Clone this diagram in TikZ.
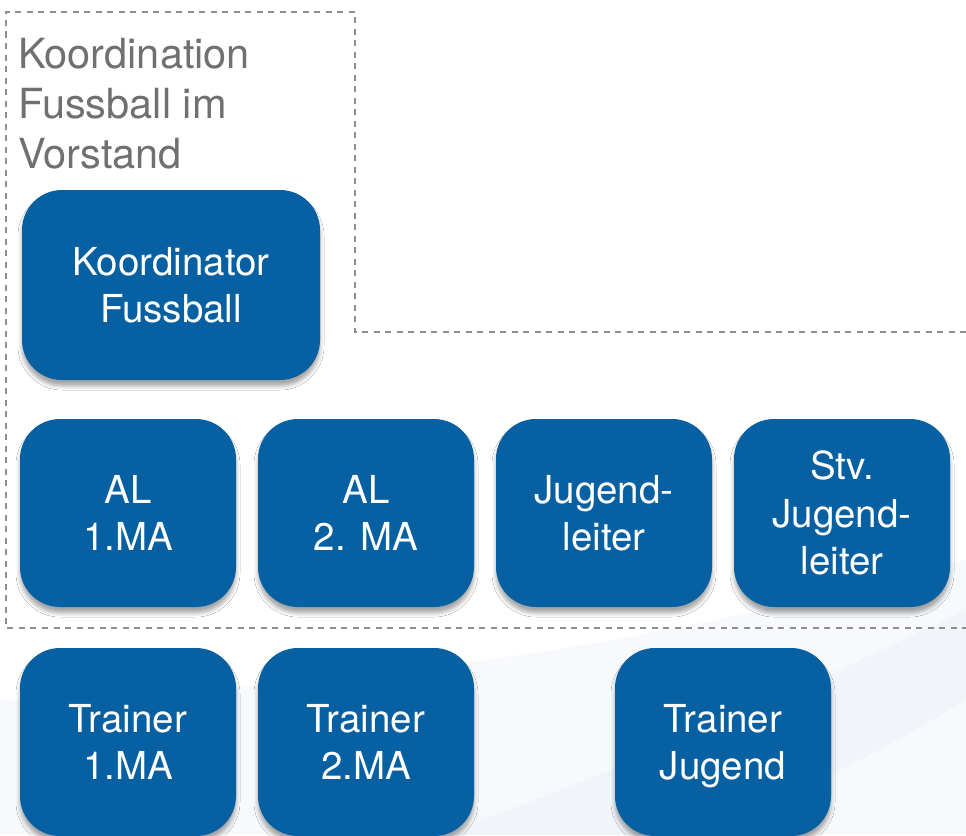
\documentclass[tikz,border=0pt]{standalone}
\usepackage{fontspec}
\setmainfont{TeX Gyre Heros}
\usetikzlibrary{shadows.blur}
\definecolor{boxblue}{HTML}{0660A1}
\definecolor{titlegray}{HTML}{707070}
\definecolor{dotgray}{HTML}{8E8E8E}
\definecolor{swooshA}{HTML}{F1F5FA}
\definecolor{swooshB}{HTML}{F7F9FC}
\newcommand{\lastline}[1]{\smash{#1}}
\tikzset{
  orgbox/.style={draw=none, fill=boxblue, rounded corners=40pt, text=white,
    align=center, inner sep=0pt, font=\fontsize{38.5}{47.5}\selectfont,
    blur shadow={shadow xshift=0pt, shadow yshift=-6pt, shadow blur radius=4pt, shadow opacity=35}},
  smallbox/.style={orgbox, minimum width=216pt, minimum height=188pt},
  groupline/.style={draw=dotgray, line width=1.9pt, dash pattern=on 6pt off 5.5pt},
  titletext/.style={text=titlegray, align=left, inner sep=0pt, anchor=north west,
    font=\fontsize{41.5}{50}\selectfont}
}
\begin{document}
\begin{tikzpicture}[x=1pt, y=-1pt]
\useasboundingbox (0,0) rectangle (966,835);
\fill[white] (0,0) rectangle (966,835);
% faint background swoosh
\fill[swooshB] (0,700) .. controls (300,690) and (600,660) .. (966,560) -- (966,835) -- (0,835) -- cycle;
\fill[swooshA] (440,835) .. controls (650,760) and (820,680) .. (966,610) -- (966,700) .. controls (850,770) and (760,810) .. (700,835) -- cycle;
% group outline
\coordinate (g1) at (966,332);
\coordinate (g2) at (355,332);
\coordinate (g3) at (355,12);
\coordinate (g4) at (6,12);
\coordinate (g5) at (6,628);
\coordinate (g6) at (966,628);
\draw[groupline] (g1) -- (g2) -- (g3) -- (g4) -- (g5) -- (g6);
\node[titletext] (title) at (18,38) {Koordination\\Fussball im\\Vorstand};
% boxes
\node[orgbox, minimum width=298pt, minimum height=190pt] (koord) at (171,285) {Koordinator\\\lastline{Fussball}};
\node[smallbox] (al1) at (128,513) {AL\\\lastline{1.MA}};
\node[smallbox] (al2) at (366,513) {AL\\\lastline{2. MA}};
\node[smallbox] (jl) at (604,513) {Jugend-\\\lastline{leiter}};
\node[smallbox] (sjl) at (842,513) {Stv.\\Jugend-\\\lastline{leiter}};
\node[smallbox] (t1) at (128,742) {Trainer\\\lastline{1.MA}};
\node[smallbox] (t2) at (366,742) {Trainer\\\lastline{2.MA}};
\node[smallbox] (tj) at (723,742) {Trainer\\\lastline{Jugend}};
\end{tikzpicture}
\end{document}
